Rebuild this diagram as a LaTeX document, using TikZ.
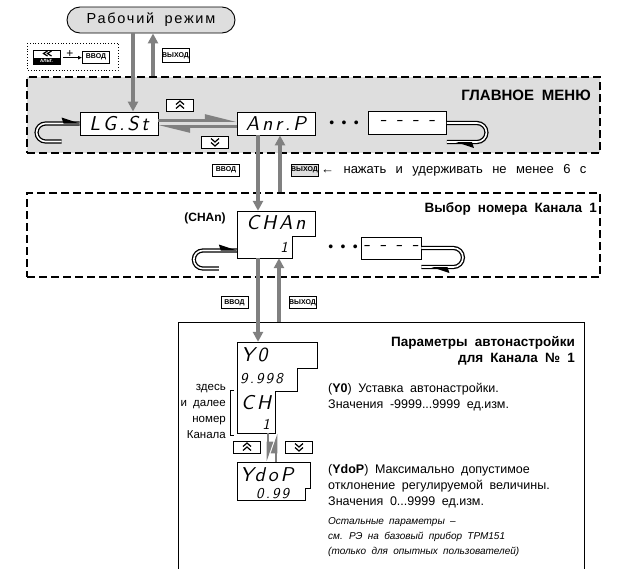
\documentclass[tikz,border=0pt]{standalone}
\usepackage{fontspec}
\setmainfont{Liberation Sans}[WordSpace=1.9]
\newfontfamily\spacedfont{Liberation Sans}[LetterSpace=12,WordSpace=1.8]
\newfontfamily\widefont{Liberation Sans}[WordSpace=2.6]
\newfontfamily\segfont{lmsans10-oblique.otf}[LetterSpace=14]
\usetikzlibrary{arrows.meta}
\definecolor{panelgray}{gray}{0.87}
\definecolor{arrowgray}{gray}{0.5}
\tikzset{
  pill/.style={draw,line width=0.9pt,fill=panelgray,rounded corners=13pt,minimum width=168pt,minimum height=26pt,inner sep=0pt,font=\spacedfont\fontsize{14.5}{14.5}\selectfont},
  menu/.style={draw,line width=1.3pt,dash pattern=on 8pt off 4pt,inner sep=0pt},
  disp/.style={draw,fill=white,line width=0.9pt,minimum width=78pt,minimum height=23pt,inner sep=0pt,font=\segfont\fontsize{20}{20}\selectfont},
  segbig/.style={inner sep=0pt,font=\segfont\fontsize{20}{20}\selectfont},
  segsmall/.style={inner sep=0pt,font=\segfont\fontsize{15}{15}\selectfont},
  outline/.style={draw,fill=white,line width=0.9pt},
  key/.style={draw,fill=white,line width=0.9pt,minimum width=27pt,minimum height=12pt,inner sep=0pt,font=\bfseries\fontsize{7}{7}\selectfont},
  chev/.style={line width=1.2pt},
  garrow/.style={draw=arrowgray,line width=3.5pt,-{Triangle[length=10pt,width=10pt]}},
  harp/.style={draw=arrowgray,line width=2.6pt,-{Triangle[left,length=26pt,width=12pt]}},
  harpshort/.style={draw=arrowgray,line width=2.6pt,-{Triangle[left,length=16pt,width=10pt]}},
  loopline/.style={line width=1.3pt,double=white,double distance=1.6pt},
  title/.style={inner sep=0pt,font=\bfseries\fontsize{13.5}{16}\selectfont},
  body/.style={inner sep=0pt,align=left,font=\fontsize{12.5}{16}\selectfont},
}
\begin{document}
\begin{tikzpicture}[x=1pt,y=-1pt]
  \useasboundingbox (0,0) rectangle (628,568);
  % working mode and entry keys
  \node[pill] (work) at (151,20) {Рабочий режим};
  \draw[dotted,line width=0.8pt] (27,43) rectangle (118,70);
  \node[draw,line width=0.9pt,fill=white,minimum width=27pt,minimum height=14pt,inner sep=0pt] (alt) at (46.5,57) {};
  \fill (alt.south west) rectangle ([yshift=-1]alt.east);
  \node[inner sep=0pt,text=white,font=\bfseries\fontsize{4.5}{4.5}\selectfont] at ([yshift=3]alt.south) {АЛЬТ.};
  \draw[chev,shift={(alt.center)}] (1,-6) -- (-3,-3.5) -- (1,-1) (5,-6) -- (1,-3.5) -- (5,-1);
  \node[inner sep=0pt,font=\fontsize{12}{12}\selectfont] (plus) at (70,54) {+};
  \node[key] (enter0) at (96,57) {ВВОД};
  \draw[line width=0.7pt,-{Latex[length=4pt,width=4pt]}] ([xshift=-3]plus.south west) -- (plus.south -| enter0.west);
  \node[key,minimum height=14pt] (exit0) at (175.5,55.5) {ВЫХОД};

  % main menu
  \node[menu,fill=panelgray,minimum width=573pt,minimum height=76pt] (mainmenu) at (313.5,115) {};
  \node[title,anchor=east,font=\bfseries\fontsize{15}{16}\selectfont] at (591,95) {ГЛАВНОЕ МЕНЮ};
  \node[disp] (lgst) at (119,123.5) {LG.St};
  \node[disp] (anrp) at (276,123.5) {Anr.P};
  \node[inner sep=0pt,font=\fontsize{14}{14}\selectfont] (dots1) at (344,124) {• • •};
  \node[disp] (last1) at (407.5,123) {- - - -};
  \node[key] (up1) at (180,105) {};
  \node[key] (dn1) at (215,142) {};
  \draw[harp] ([yshift=3]lgst.east) -- ([yshift=3]anrp.west);
  \draw[harp] ([yshift=-3]anrp.west) -- ([yshift=-3]lgst.east);
  \draw[loopline] (lgst.west) -- ++(-34,0) arc (270:90:9) -- ++(16,0);
  \fill (lgst.west) -- ++(-18,-6) -- ++(2,6) -- cycle;
  \draw[loopline] (last1.east) -- ++(30,0) arc (-90:90:9.5) -- ++(-30,0);
  \fill ([xshift=9,yshift=-19]last1.east) -- ++(18,6) -- ++(-2,-6) -- cycle;
  \draw[garrow] ([xshift=-18]work.south) -- ([xshift=14]lgst.north);
  \draw[garrow] ([xshift=2]work.south |- mainmenu.north) -- ([xshift=2]work.south);

  % channel choice
  \node[key] (enter1) at (226,170) {ВВОД};
  \node[key,fill=panelgray] (exit1) at (304.5,170) {ВЫХОД};
  \node[body,anchor=west,font=\widefont\fontsize{13}{16}\selectfont] (holdnote) at (321,170) {← нажать и удерживать не менее 6 с};
  \node[menu,minimum width=573pt,minimum height=84pt] (chanbox) at (313.5,235) {};
  \node[title,anchor=east] at (597,209) {Выбор номера Канала 1};
  \node[inner sep=0pt,font=\bfseries\fontsize{12}{12}\selectfont] (chanlabel) at (205,218) {(CHAn)};
  \draw[outline] (237,211) -| (315,236) -| (292,258) -| cycle;
  \node[minimum width=78pt,minimum height=47pt,inner sep=0pt] (chanbody) at (276,234.5) {};
  \node[segbig] (chan) at (276,223) {CHAn};
  \node[segsmall] (channo) at (284,247) {1};
  \node[inner sep=0pt,font=\fontsize{14}{14}\selectfont] (dots2) at (343,248) {• • •};
  \node[disp,minimum width=60pt,minimum height=22pt] (last2) at (391,248) {- - - -};
  \draw[loopline] ([yshift=-16]chanbody.west) -- ++(-34,0) arc (270:90:9) -- ++(16,0);
  \fill ([yshift=-16]chanbody.west) -- ++(-18,-6) -- ++(2,6) -- cycle;
  \draw[loopline] (last2.east) -- ++(32,0) arc (-90:90:9.5) -- ++(-32,0);
  \fill ([xshift=10,yshift=-19]last2.east) -- ++(18,6) -- ++(-2,-6) -- cycle;
  \draw[garrow] ([xshift=-18]anrp.south) -- ([xshift=-18]anrp.south |- chanbody.north);
  \draw[garrow] ([xshift=4]anrp.south |- chanbox.north) -- ([xshift=4]anrp.south);

  % autotuning parameters
  \node[key] (enter2) at (234.5,302.5) {ВВОД};
  \node[key] (exit2) at (302.5,302.5) {ВЫХОД};
  \node[draw,line width=0.9pt,minimum width=406pt,minimum height=278pt,inner sep=0pt] (params) at (381,461) {};
  \node[title,anchor=north east,align=right] at (575,336) {Параметры автонастройки\\для Канала № 1};
  \draw[outline] (237,342) -| (317,368) -| (297,391) -| (275,433) -| cycle;
  \node[minimum width=80pt,minimum height=91pt,inner sep=0pt] (y0) at (277,387.5) {};
  \node[segbig,anchor=west] (y0name) at (241,355) {Y0};
  \node[segsmall,anchor=west] (y0val) at (240,379) {9.998};
  \node[segbig,anchor=west] (y0ch) at (241,403) {CH};
  \node[segsmall] (y0no) at (266,424) {1};
  \draw[outline] (237,462) -| (310,488) -| (305,500) -| cycle;
  \node[minimum width=73pt,minimum height=38pt,inner sep=0pt] (ydop) at (273.5,481) {};
  \node[segbig,anchor=west] (ydopname) at (240,475) {YdoP};
  \node[segsmall,anchor=west] (ydopval) at (256,494) {0.99};
  \node[key] (up3) at (247,447) {};
  \node[key] (dn3) at (299,447) {};
  \draw[harpshort] ([xshift=-5.5]ydop.north |- y0.south) -- ([xshift=-5.5]ydop.north);
  \draw[harpshort] ([xshift=2.5]ydop.north) -- ([xshift=2.5]ydop.north |- y0.south);
  \draw[garrow] ([xshift=-18]chanbody.south) -- ([xshift=-18]chanbody.south |- y0.north);
  \draw[garrow] ([xshift=3]chanbody.south |- params.north) -- ([xshift=3]chanbody.south);
  \draw[line width=0.7pt] (234,390) -- (230,390) -- (230,435) -- (234,435);
  \node[inner sep=0pt,anchor=east,align=right,font=\fontsize{11.5}{16}\selectfont] (chnote) at (226,411) {здесь\\и далее\\номер\\Канала};
  \node[body,anchor=west] (y0text) at (328,397) {(\textbf{Y0}) Уставка автонастройки.\\Значения -9999...9999 ед.изм.};
  \node[body,anchor=west] (ydoptext) at (328,486) {(\textbf{YdoP}) Максимально допустимое\\отклонение регулируемой величины.\\Значения 0...9999 ед.изм.};
  \node[body,anchor=west,font=\itshape\fontsize{10}{15}\selectfont] (resttext) at (328,537) {Остальные параметры –\\см. РЭ на базовый прибор ТРМ151\\(только для опытных пользователей)};

  % key arrows
  \foreach \k in {up1,up3}
    \draw[chev,shift={(\k.center)}] (-4,-0.5) -- (0,-4) -- (4,-0.5) (-4,3.5) -- (0,0) -- (4,3.5);
  \foreach \k in {dn1,dn3}
    \draw[chev,shift={(\k.center)}] (-4,-3.5) -- (0,0) -- (4,-3.5) (-4,0.5) -- (0,4) -- (4,0.5);
\end{tikzpicture}
\end{document}
